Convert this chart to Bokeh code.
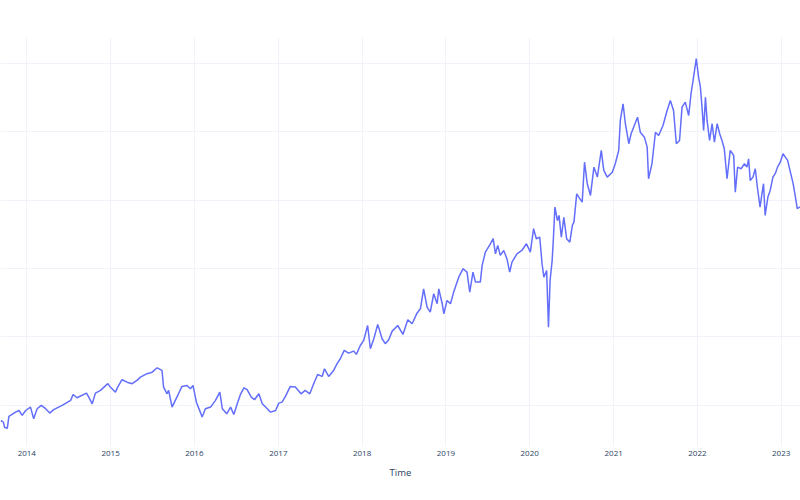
from datetime import datetime
import pandas as pd
from bokeh.plotting import figure
from bokeh.models import Range1d, FixedTicker, DatetimeTickFormatter, ColumnDataSource
from bokeh.embed import file_html
from bokeh.resources import INLINE

# ---- data (values in arbitrary units; grid every 50) ----
dates_2013 = ["2013-09-09", "2013-09-21", "2013-09-26", "2013-10-08", "2013-10-15", "2013-10-22",
              "2013-11-13", "2013-11-28", "2013-12-12", "2013-12-27"]
values_2013 = [39.0, 37.8, 34.1, 33.2, 42.0, 42.7, 45.1, 46.3, 42.7, 46.3]

dates_2014 = ["2014-01-17", "2014-01-31", "2014-02-15", "2014-03-05", "2014-03-24", "2014-04-11",
              "2014-04-28", "2014-06-04", "2014-07-11", "2014-07-22", "2014-08-08", "2014-09-18",
              "2014-09-28", "2014-10-13", "2014-10-27", "2014-11-18", "2014-12-20", "2014-12-31"]
values_2014 = [48.8, 40.3, 47.6, 50.0, 47.6, 44.4, 46.9, 50.0, 53.7, 58.0, 55.6, 59.0,
               56.1, 51.2, 59.0, 61.0, 65.9, 63.4]

dates_2015 = ["2015-01-22", "2015-02-01", "2015-02-20", "2015-03-14", "2015-04-05", "2015-04-26",
              "2015-05-11", "2015-06-09", "2015-07-01", "2015-07-23", "2015-08-13", "2015-08-20",
              "2015-09-04", "2015-09-11", "2015-09-26", "2015-10-10", "2015-10-24", "2015-11-08",
              "2015-11-30", "2015-12-15", "2015-12-26"]
values_2015 = [59.7, 63.4, 68.8, 67.0, 65.9, 68.3, 70.7, 73.2, 74.3, 77.5, 75.6, 63.4,
               58.5, 61.0, 48.8, 53.7, 58.5, 63.9, 64.6, 62.2, 64.6]

dates_2016 = ["2016-01-10", "2016-01-27", "2016-02-04", "2016-02-18", "2016-03-12", "2016-04-02",
              "2016-04-21", "2016-05-02", "2016-05-21", "2016-06-07", "2016-06-21", "2016-07-06",
              "2016-07-21", "2016-08-04", "2016-08-18", "2016-09-05", "2016-09-19", "2016-10-08",
              "2016-10-23", "2016-11-14", "2016-11-28", "2016-12-20"]
values_2016 = [52.4, 45.1, 41.5, 47.6, 48.8, 53.7, 59.7, 47.6, 43.9, 48.8, 43.4, 51.2,
               58.5, 62.9, 61.5, 56.1, 54.2, 58.5, 51.2, 47.6, 45.1, 46.3]

dates_2017 = ["2017-01-03", "2017-01-17", "2017-02-01", "2017-02-22", "2017-03-16", "2017-04-10",
              "2017-04-28", "2017-05-18", "2017-06-04", "2017-06-21", "2017-07-11", "2017-07-21",
              "2017-08-08", "2017-08-30", "2017-09-14", "2017-09-28", "2017-10-15", "2017-11-03",
              "2017-11-25", "2017-12-07", "2017-12-24"]
values_2017 = [51.7, 52.4, 56.6, 63.9, 63.4, 58.5, 61.0, 58.5, 65.9, 72.6, 71.2, 76.8,
               71.2, 75.6, 80.5, 84.1, 90.2, 88.2, 89.7, 87.3, 93.8]

dates_2018 = ["2018-01-08", "2018-01-25", "2018-02-06", "2018-02-21", "2018-03-10", "2018-03-29",
              "2018-04-12", "2018-04-27", "2018-05-12", "2018-06-05", "2018-06-28", "2018-07-19",
              "2018-08-07", "2018-08-28", "2018-09-12", "2018-09-26", "2018-10-11", "2018-10-25",
              "2018-11-09", "2018-11-24", "2018-12-01", "2018-12-16", "2018-12-23"]
values_2018 = [97.5, 108.4, 91.4, 98.7, 109.2, 98.7, 95.1, 98.0, 104.3, 108.4, 101.9, 112.6,
               109.7, 117.4, 120.6, 135.2, 121.8, 118.2, 131.6, 124.3, 135.2, 124.3, 117.0]

dates_2019 = ["2019-01-06", "2019-01-21", "2019-02-04", "2019-02-26", "2019-03-17", "2019-04-03",
              "2019-04-15", "2019-04-29", "2019-05-10", "2019-05-31", "2019-06-08", "2019-06-22",
              "2019-07-14", "2019-07-26", "2019-08-05", "2019-08-15", "2019-08-26", "2019-09-10",
              "2019-09-24", "2019-10-06", "2019-10-16", "2019-11-07", "2019-11-28", "2019-12-18"]
values_2019 = [126.7, 124.3, 132.8, 143.7, 149.9, 147.4, 132.8, 147.4, 140.1, 140.1, 152.3, 162.0,
               168.1, 171.8, 160.8, 166.9, 159.6, 163.2, 157.2, 147.4, 154.7, 160.8, 163.2, 168.1]

dates_2020 = ["2020-01-04", "2020-01-18", "2020-01-30", "2020-02-14", "2020-02-24", "2020-03-03",
              "2020-03-15", "2020-03-23", "2020-03-30", "2020-04-08", "2020-04-13", "2020-04-20",
              "2020-05-01", "2020-05-08", "2020-05-18", "2020-05-29", "2020-06-10", "2020-06-24",
              "2020-07-05", "2020-07-12", "2020-07-24", "2020-08-02", "2020-08-17", "2020-08-27",
              "2020-09-08", "2020-09-22", "2020-10-07", "2020-10-22", "2020-11-08", "2020-11-19",
              "2020-12-04", "2020-12-26"]
values_2020 = [162.0, 179.1, 171.8, 172.9, 153.5, 143.7, 148.6, 107.2, 141.3, 155.9, 170.5, 194.9,
               185.1, 188.8, 172.9, 187.5, 171.8, 169.3, 181.5, 183.9, 204.6, 202.2, 198.5, 227.7,
               212.0, 203.4, 224.1, 216.8, 236.3, 221.7, 216.8, 220.4]

dates_2021 = ["2021-01-08", "2021-01-23", "2021-01-30", "2021-02-11", "2021-02-21", "2021-03-08",
              "2021-03-18", "2021-03-29", "2021-04-15", "2021-04-27", "2021-05-15", "2021-05-27",
              "2021-06-02", "2021-06-17", "2021-07-02", "2021-07-16", "2021-08-04", "2021-08-22",
              "2021-09-05", "2021-09-19", "2021-10-01", "2021-10-15", "2021-10-26", "2021-11-09",
              "2021-11-24", "2021-12-04", "2021-12-13", "2021-12-27"]
values_2021 = [226.6, 236.3, 258.2, 270.4, 255.8, 241.2, 248.5, 253.3, 260.6, 249.6, 246.0, 238.7,
               215.6, 226.6, 249.6, 247.2, 254.5, 265.5, 272.8, 265.5, 241.2, 243.6, 267.9, 271.6,
               261.8, 277.7, 287.4, 303.3]

dates_2022 = ["2022-01-06", "2022-01-14", "2022-01-21", "2022-01-28", "2022-02-05", "2022-02-12",
              "2022-02-23", "2022-03-06", "2022-03-16", "2022-03-28", "2022-04-08", "2022-04-18",
              "2022-04-28", "2022-05-10", "2022-05-24", "2022-06-08", "2022-06-15", "2022-06-25",
              "2022-07-10", "2022-07-25", "2022-08-05", "2022-08-12", "2022-08-19", "2022-08-31",
              "2022-09-10", "2022-09-20", "2022-10-01", "2022-10-09", "2022-10-16", "2022-10-23",
              "2022-11-04", "2022-11-14", "2022-11-26", "2022-12-06", "2022-12-16", "2022-12-28"]
values_2022 = [289.8, 282.5, 267.9, 250.9, 275.2, 258.2, 243.6, 255.8, 242.3, 255.8, 248.5, 243.6,
               237.5, 215.6, 236.3, 232.6, 205.8, 224.1, 222.9, 226.6, 224.1, 230.2, 214.4, 216.8,
               222.9, 208.3, 194.9, 204.6, 212.0, 188.8, 202.2, 207.1, 216.8, 219.3, 224.1, 227.7]

dates_2023 = ["2023-01-09", "2023-01-19", "2023-01-29", "2023-02-10", "2023-02-22", "2023-03-04",
              "2023-03-12", "2023-03-23", "2023-03-27"]
values_2023 = [233.9, 231.4, 229.0, 220.4, 212.0, 202.2, 193.7, 194.9, 195.5]

year_ticks = ["2014-01-01", "2015-01-01", "2016-01-01", "2017-01-01", "2018-01-01",
              "2019-01-01", "2020-01-01", "2021-01-01", "2022-01-01", "2023-01-01"]
value_grid = [50, 100, 150, 200, 250, 300]
x_title = "Time"

# ---- assemble ----
all_dates = (dates_2013 + dates_2014 + dates_2015 + dates_2016 + dates_2017 + dates_2018 +
             dates_2019 + dates_2020 + dates_2021 + dates_2022 + dates_2023)
all_values = (values_2013 + values_2014 + values_2015 + values_2016 + values_2017 + values_2018 +
              values_2019 + values_2020 + values_2021 + values_2022 + values_2023)
src = ColumnDataSource(dict(time=pd.to_datetime(all_dates), value=all_values))

TEXT = "#2a3f5f"
GRID = "#EBF0F8"

p = figure(width=800, height=500, x_axis_type="datetime", y_axis_location=None,
           x_range=Range1d(datetime(2013, 9, 8, 10), datetime(2023, 3, 26, 2)),
           y_range=Range1d(20, 318.8),
           output_backend="svg", toolbar_location=None,
           min_border_left=0, min_border_right=0, min_border_top=37, min_border_bottom=54)
p.outline_line_color = None
p.background_fill_color = "white"
p.border_fill_color = "white"

p.line("time", "value", source=src, line_color="#636EFA", line_width=1.5)

tick_ms = [int(pd.Timestamp(t).value // 10**6) for t in year_ticks]
p.xaxis.ticker = FixedTicker(ticks=tick_ms)
p.xaxis.formatter = DatetimeTickFormatter(years="%Y", months="%Y", days="%Y", hours="%Y",
                                          hourmin="%Y", minutes="%Y", minsec="%Y",
                                          seconds="%Y", milliseconds="%Y", microseconds="%Y")
p.xaxis.axis_label = x_title
p.xaxis.axis_line_color = None
p.xaxis.major_tick_line_color = None
p.xaxis.minor_tick_line_color = None
p.xaxis.major_tick_out = 0
p.xaxis.major_tick_in = 0
p.xaxis.major_label_standoff = 4
p.xaxis.axis_label_standoff = 7
p.xaxis.major_label_text_font = "Open Sans"
p.xaxis.major_label_text_font_size = "8px"
p.xaxis.major_label_text_color = TEXT
p.xaxis.axis_label_text_font = "Open Sans"
p.xaxis.axis_label_text_font_size = "9.5px"
p.xaxis.axis_label_text_font_style = "normal"
p.xaxis.axis_label_text_color = TEXT

p.xgrid.ticker = FixedTicker(ticks=tick_ms)
p.xgrid.grid_line_color = GRID
p.xgrid.grid_line_alpha = 0.75
p.xgrid.grid_line_width = 1
p.ygrid.ticker = FixedTicker(ticks=value_grid)
p.ygrid.grid_line_color = GRID
p.ygrid.grid_line_alpha = 0.75
p.ygrid.grid_line_width = 1

open("out.html", "w").write(file_html(p, INLINE))
